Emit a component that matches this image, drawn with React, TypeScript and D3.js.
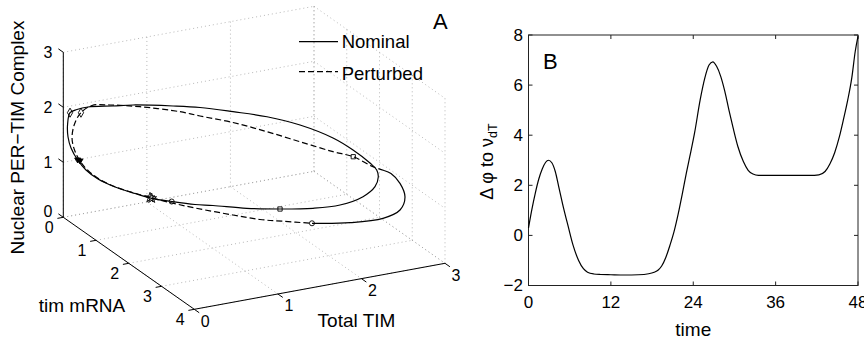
import React from "react";
import * as d3 from "d3";

// ---------- Panel A data (3D limit cycles) ----------
const nominalTIM = [0.061,0.035,0.041,0.069,0.125,0.193,0.290,0.423,0.576,0.705,0.858,1.035,1.172,1.430,1.692,1.969,2.214,2.450,2.613,2.711,2.751,2.729,2.644,2.522,2.284,2.026,1.737,1.440,1.176,0.756,0.540,0.264,0.140];
const nominalMRNA = [0.05,0.04,0.04,0.06,0.12,0.2,0.32,0.5,0.72,0.9,1.12,1.38,1.58,1.95,2.3,2.6,2.8,2.9,2.85,2.7,2.55,2.4,2.1,1.8,1.4,1.05,0.75,0.5,0.35,0.2,0.14,0.08,0.06];
const nominalComplex = [1.906,1.685,1.465,1.266,1.057,0.890,0.749,0.642,0.573,0.525,0.516,0.521,0.549,0.580,0.641,0.702,0.777,0.905,1.020,1.106,1.160,1.230,1.365,1.492,1.627,1.703,1.750,1.804,1.842,1.915,1.932,1.965,1.946];

const perturbedTIM = [2.819,2.765,2.647,2.502,2.264,2.006,1.717,1.420,1.232,0.820,0.500,0.304,0.180,0.107,0.077,0.099,0.145,0.209,0.302,0.427,0.576,0.677,0.807,0.969,1.227,1.413,1.571,1.800,2.157,2.513,2.736,2.874,2.912,2.863];
const perturbedMRNA = [2.6,2.4,2.1,1.85,1.45,1.1,0.8,0.55,0.42,0.25,0.15,0.1,0.08,0.07,0.07,0.09,0.14,0.22,0.35,0.55,0.75,0.92,1.2,1.55,2.05,2.4,2.7,3.0,3.25,3.35,3.3,3.1,2.85,2.7];
const perturbedComplex = [1.153,1.153,1.242,1.269,1.350,1.457,1.580,1.676,1.752,1.887,1.965,1.990,1.885,1.696,1.450,1.234,1.042,0.885,0.749,0.653,0.586,0.556,0.546,0.547,0.557,0.570,0.619,0.644,0.660,0.682,0.750,0.864,0.998,1.127];
const perturbedDashedEnd = 27; // dashed from index 0..27, solid 27..end..0

const nominalMarkers = [{ i: 0, s: "diamond" }, { i: 4, s: "triangle" }, { i: 9, s: "star" }, { i: 10, s: "circle" }, { i: 14, s: "square" }];
const perturbedMarkers = [{ i: 2, s: "square" }, { i: 12, s: "diamond" }, { i: 16, s: "triangle" }, { i: 21, s: "star" }, { i: 27, s: "circle" }];

const timTicks = [0, 1, 2, 3];
const mrnaTicks = [0, 1, 2, 3, 4];
const complexTicks = [0, 1, 2, 3];

// ---------- Panel B data ----------
const timeB = [0,0.5,1,1.5,2,2.5,2.9,3.4,3.9,4.4,5.1,5.8,6.5,7.3,8.0,8.6,9.5,10.5,12,14,16,17.5,18.3,18.9,19.4,20.0,20.6,21.2,21.8,22.4,23.0,23.5,24.2,25.0,25.7,26.3,26.85,27.4,28.0,28.6,29.2,29.8,30.5,31.3,32.0,32.7,33.5,35,38,41,42.3,43.2,43.9,44.6,45.3,45.9,46.5,47.1,47.6,48];
const phaseB = [0.3,1.05,1.7,2.25,2.65,2.92,3.0,2.9,2.55,1.95,1.1,0.34,-0.4,-1.0,-1.33,-1.47,-1.54,-1.56,-1.57,-1.58,-1.57,-1.53,-1.47,-1.38,-1.22,-0.88,-0.4,0.15,0.85,1.65,2.5,3.15,4.1,5.4,6.3,6.8,6.93,6.75,6.35,5.75,5.0,4.3,3.55,2.95,2.6,2.45,2.4,2.4,2.4,2.4,2.42,2.55,2.85,3.3,3.95,4.65,5.4,6.3,7.35,7.95];
const timeTicks = [0, 12, 24, 36, 48];
const phaseTicks = [-2, 0, 2, 4, 6, 8];

const FONT = "'Liberation Sans', Arial, Helvetica, sans-serif";

// ---------- projection for panel A ----------
const tScale = d3.scaleLinear().domain([0, 3]).range([0, 3]);
const ORIGIN: [number, number] = [63.3, 217.3];
const XV: [number, number] = [83.57, -15.33];
const YV: [number, number] = [32.75, 23];
const zScale = d3.scaleLinear().domain([0, 3]).range([0, 165]);
function proj(x: number, y: number, z: number): [number, number] {
  const X = tScale(x);
  return [ORIGIN[0] + XV[0] * X + YV[0] * y, ORIGIN[1] + XV[1] * X + YV[1] * y - zScale(z)];
}
function unit(v: [number, number]): [number, number] {
  const l = Math.hypot(v[0], v[1]);
  return [v[0] / l, v[1] / l];
}

function symbolPath(s: string): string {
  if (s === "diamond") return d3.symbol(d3.symbolDiamond, 24)()!;
  if (s === "square") return d3.symbol(d3.symbolSquare, 18)()!;
  if (s === "circle") return d3.symbol(d3.symbolCircle, 20)()!;
  if (s === "star") return d3.symbol(d3.symbolStar, 30)()!;
  return "M-3,-2L3,-2L0,3Z";
}

export default function App() {
  // Panel A
  const nomPts = nominalTIM.map((x, i) => proj(x, nominalMRNA[i], nominalComplex[i]));
  const perPts = perturbedTIM.map((x, i) => proj(x, perturbedMRNA[i], perturbedComplex[i]));
  const closed = d3.line().curve(d3.curveCatmullRomClosed.alpha(0.5));
  const open = d3.line().curve(d3.curveCatmullRom.alpha(0.5));
  const nomPath = closed(nomPts as any)!;
  const perDashed = open(perPts.slice(0, perturbedDashedEnd + 1) as any)!;
  const perSolid = open([...perPts.slice(perturbedDashedEnd), perPts[0]] as any)!;

  const grid: [number, number][][] = [];
  timTicks.forEach((x) => { grid.push([proj(x, 0, 0), proj(x, 0, 3)]); grid.push([proj(x, 0, 0), proj(x, 4, 0)]); });
  complexTicks.forEach((z) => { grid.push([proj(0, 0, z), proj(3, 0, z)]); grid.push([proj(3, 0, z), proj(3, 4, z)]); });
  mrnaTicks.forEach((y) => { grid.push([proj(3, y, 0), proj(3, y, 3)]); grid.push([proj(0, y, 0), proj(3, y, 0)]); });

  const uy = unit(YV);
  const ux = unit(XV);
  const TL = 6;

  // Panel B
  const xB = d3.scaleLinear().domain([0, 48]).range([528.5, 858]);
  const yB = d3.scaleLinear().domain([-2, 8]).range([285.5, 35]);
  const lineB = d3.line<number>().x((_, i) => xB(timeB[i])).y((d) => yB(d)).curve(d3.curveMonotoneX);

  const stroke = "#000";
  return (
    <svg width={864} height={339} style={{ position: "absolute", left: 0, top: 0, background: "#fff" }} fontFamily={FONT}>
      <rect x={0} y={0} width={864} height={339} fill="#fff" />
      {/* ---- Panel A grid ---- */}
      <g stroke="#9a9a9a" strokeWidth={0.7} strokeDasharray="1,3" fill="none">
        {grid.map((g, i) => (
          <line key={i} x1={g[0][0]} y1={g[0][1]} x2={g[1][0]} y2={g[1][1]} />
        ))}
      </g>
      {/* axes */}
      <g stroke={stroke} strokeWidth={1} fill="none">
        <line x1={proj(0, 0, 0)[0]} y1={proj(0, 0, 0)[1]} x2={proj(0, 0, 3)[0]} y2={proj(0, 0, 3)[1]} />
        <line x1={proj(0, 0, 0)[0]} y1={proj(0, 0, 0)[1]} x2={proj(0, 4, 0)[0]} y2={proj(0, 4, 0)[1]} />
        <line x1={proj(0, 4, 0)[0]} y1={proj(0, 4, 0)[1]} x2={proj(3, 4, 0)[0]} y2={proj(3, 4, 0)[1]} />
        {complexTicks.map((z) => {
          const p = proj(0, 0, z);
          return <line key={"zt" + z} x1={p[0]} y1={p[1]} x2={p[0] - uy[0] * TL} y2={p[1] - uy[1] * TL} />;
        })}
        {mrnaTicks.map((y) => {
          const p = proj(0, y, 0);
          return <line key={"yt" + y} x1={p[0]} y1={p[1]} x2={p[0] - ux[0] * TL} y2={p[1] - ux[1] * TL} />;
        })}
        {timTicks.map((x) => {
          const p = proj(x, 4, 0);
          return <line key={"xt" + x} x1={p[0]} y1={p[1]} x2={p[0] + uy[0] * TL} y2={p[1] + uy[1] * TL} />;
        })}
      </g>
      {/* tick labels */}
      <g fontSize={16} fill="#000">
        {complexTicks.map((z) => {
          const p = proj(0, 0, z);
          return (
            <text key={"zl" + z} x={p[0] - 11} y={p[1] + (z === 0 ? -6 : 0)} textAnchor="end" dominantBaseline="central">{z}</text>
          );
        })}
        {mrnaTicks.map((y) => {
          const p = proj(0, y, 0);
          return (
            <text key={"yl" + y} x={p[0] - 14} y={p[1] + 10} textAnchor="middle" dominantBaseline="central">{y}</text>
          );
        })}
        {timTicks.map((x) => {
          const p = proj(x, 4, 0);
          return (
            <text key={"xl" + x} x={p[0] + 11} y={p[1] + 12} textAnchor="middle" dominantBaseline="central">{x}</text>
          );
        })}
      </g>
      {/* axis labels */}
      <g fontSize={19} fill="#000">
        <text transform="translate(24,137.5) rotate(-90)" textAnchor="middle">Nuclear PER−TIM Complex</text>
        <text x={82} y={311.7} textAnchor="middle">tim mRNA</text>
        <text x={356.5} y={326.7} textAnchor="middle">Total TIM</text>
      </g>
      <text x={433} y={28.5} fontSize={22}>A</text>
      {/* curves */}
      <g fill="none" stroke="#000" strokeWidth={1.2}>
        <path d={nomPath} />
        <path d={perDashed} strokeDasharray="6,3" />
        <path d={perSolid} />
      </g>
      {/* markers */}
      <g stroke="#000" strokeWidth={0.9}>
        {nominalMarkers.map((m, k) => (
          <path key={"nm" + k} transform={`translate(${nomPts[m.i][0]},${nomPts[m.i][1]})`} d={symbolPath(m.s)} fill={m.s === "triangle" ? "#000" : "none"} />
        ))}
        {perturbedMarkers.map((m, k) => (
          <path key={"pm" + k} transform={`translate(${perPts[m.i][0]},${perPts[m.i][1]})`} d={symbolPath(m.s)} fill={m.s === "triangle" ? "#000" : "none"} />
        ))}
      </g>
      {/* legend */}
      <g>
        <line x1={299} y1={41.7} x2={338} y2={41.7} stroke="#000" strokeWidth={1.2} />
        <text x={341.7} y={48.3} fontSize={18.5}>Nominal</text>
        <line x1={299} y1={71.7} x2={338} y2={71.7} stroke="#000" strokeWidth={1.2} strokeDasharray="6,3" />
        <text x={341.7} y={80} fontSize={18.5}>Perturbed</text>
      </g>

      {/* ---- Panel B ---- */}
      <rect x={528.5} y={35} width={858 - 528.5} height={285.5 - 35} fill="none" stroke="#222" strokeWidth={1} />
      <g stroke="#222" strokeWidth={1}>
        {timeTicks.map((t) => (
          <g key={"bt" + t}>
            <line x1={xB(t)} x2={xB(t)} y1={285.5} y2={281.5} />
            <line x1={xB(t)} x2={xB(t)} y1={35} y2={39} />
          </g>
        ))}
        {phaseTicks.map((v) => (
          <g key={"bv" + v}>
            <line x1={528.5} x2={532.5} y1={yB(v)} y2={yB(v)} />
            <line x1={858} x2={854} y1={yB(v)} y2={yB(v)} />
          </g>
        ))}
      </g>
      <g fontSize={17} fill="#000">
        {timeTicks.map((t) => (
          <text key={"btl" + t} x={xB(t)} y={307.5} textAnchor="middle">{t}</text>
        ))}
        {phaseTicks.map((v) => (
          <text key={"bvl" + v} x={523} y={yB(v)} textAnchor="end" dominantBaseline="central">{v < 0 ? "−" + Math.abs(v) : v}</text>
        ))}
      </g>
      <path d={lineB(phaseB)!} fill="none" stroke="#000" strokeWidth={1.2} />
      <text x={693.3} y={335.5} fontSize={19} textAnchor="middle">time</text>
      <text transform="translate(493,161.5) rotate(-90)" fontSize={18} textAnchor="middle">
        Δ φ to ν<tspan fontSize={12.5} dy={4}>dT</tspan>
      </text>
      <text x={543} y={69} fontSize={22}>B</text>
    </svg>
  );
}
